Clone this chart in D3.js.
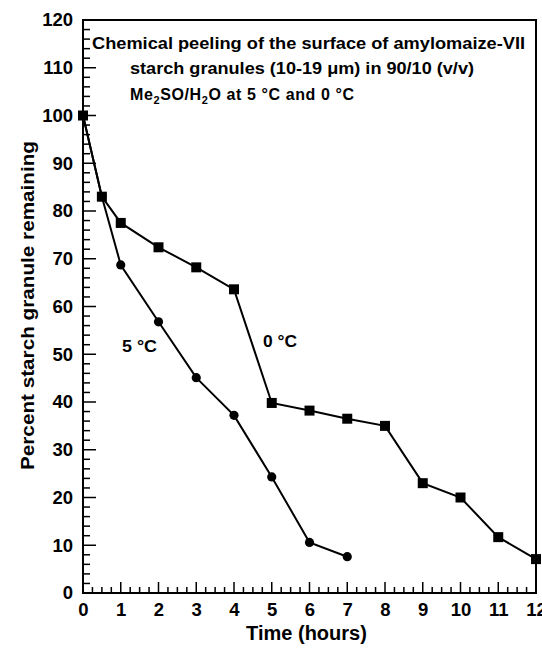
<!DOCTYPE html>
<html>
<head>
<meta charset="utf-8">
<script src="https://cdn.jsdelivr.net/npm/d3@7"></script>
<style>
body { margin: 0; background: #fff; }
text { font-family: "Liberation Sans", Arial, sans-serif; font-weight: bold; fill: #000; }
</style>
</head>
<body>
<div id="chart"></div>
<script>
var hours5 = [0, 0.5, 1, 2, 3, 4, 5, 6, 7];
var pct5 = [100, 83, 68.7, 56.8, 45.1, 37.2, 24.3, 10.6, 7.6];
var hours0 = [0, 0.5, 1, 2, 3, 4, 5, 6, 7, 8, 9, 10, 11, 12];
var pct0 = [100, 83, 77.5, 72.4, 68.2, 63.6, 39.8, 38.2, 36.5, 35, 23, 20, 11.7, 7.1];
var xTicks = [0, 1, 2, 3, 4, 5, 6, 7, 8, 9, 10, 11, 12];
var yTicks = [0, 10, 20, 30, 40, 50, 60, 70, 80, 90, 100, 110, 120];

var margin = { top: 20, right: 6, bottom: 56, left: 83 };
var width = 542 - margin.left - margin.right;
var height = 649 - margin.top - margin.bottom;

var svg = d3.select("#chart")
    .append("svg")
    .attr("width", 542)
    .attr("height", 649)
    .append("g")
    .attr("transform", "translate(" + margin.left + "," + margin.top + ")");

var x = d3.scaleLinear().domain([0, 12]).range([0, width]);
var y = d3.scaleLinear().domain([0, 120]).range([height, 0]);

// frame
svg.append("rect")
    .attr("width", width).attr("height", height)
    .attr("fill", "none").attr("stroke", "#000").attr("stroke-width", 2);

// ticks point inward, minor every 0.25 h and every 2 %
var xMinor = d3.range(0, 12.001, 0.25);
svg.append("g").selectAll("line").data(xMinor).enter().append("line")
    .attr("x1", function(d) { return x(d); }).attr("x2", function(d) { return x(d); })
    .attr("y1", height).attr("y2", function(d) { return d % 1 === 0 ? height - 11 : height - 6; })
    .attr("stroke", "#000").attr("stroke-width", 1.5);
var yMinor = d3.range(0, 120.001, 2);
svg.append("g").selectAll("line").data(yMinor).enter().append("line")
    .attr("x1", 0).attr("x2", function(d) { return d % 10 === 0 ? 13 : 7; })
    .attr("y1", function(d) { return y(d); }).attr("y2", function(d) { return y(d); })
    .attr("stroke", "#000").attr("stroke-width", 1.5);

var xAxis = svg.append("g")
    .attr("transform", "translate(0," + height + ")")
    .call(d3.axisBottom(x).tickValues(xTicks).tickSize(0).tickPadding(10));
var yAxis = svg.append("g")
    .call(d3.axisLeft(y).tickValues(yTicks).tickSize(0).tickPadding(10));
[xAxis, yAxis].forEach(function(a) {
    a.select(".domain").remove();
    a.selectAll("text").style("font-size", "18.5px").attr("font-family", null);
});

var line = d3.line()
    .x(function(d) { return x(d[0]); })
    .y(function(d) { return y(d[1]); });
var data5 = hours5.map(function(h, i) { return [h, pct5[i]]; });
var data0 = hours0.map(function(h, i) { return [h, pct0[i]]; });

svg.append("path").datum(data5).attr("d", line)
    .attr("fill", "none").attr("stroke", "#000").attr("stroke-width", 2);
svg.append("path").datum(data0).attr("d", line)
    .attr("fill", "none").attr("stroke", "#000").attr("stroke-width", 2);

svg.append("g").selectAll("circle").data(data5).enter().append("circle")
    .attr("cx", function(d) { return x(d[0]); })
    .attr("cy", function(d) { return y(d[1]); })
    .attr("r", 4.6).attr("fill", "#000");
svg.append("g").selectAll("rect").data(data0).enter().append("rect")
    .attr("x", function(d) { return x(d[0]) - 5; })
    .attr("y", function(d) { return y(d[1]) - 5; })
    .attr("width", 10).attr("height", 10).attr("fill", "#000");

// series labels
svg.append("text").attr("x", 39).attr("y", 332)
    .attr("textLength", 35).attr("lengthAdjust", "spacingAndGlyphs")
    .style("font-size", "16px").text("5 \u00b0C");
svg.append("text").attr("x", 180).attr("y", 327)
    .attr("textLength", 34).attr("lengthAdjust", "spacingAndGlyphs")
    .style("font-size", "16px").text("0 \u00b0C");

// title
svg.append("text").attr("x", 9).attr("y", 29)
    .attr("textLength", 433).attr("lengthAdjust", "spacingAndGlyphs")
    .style("font-size", "16px")
    .text("Chemical peeling of the surface of amylomaize-VII");
svg.append("text").attr("x", 47).attr("y", 54)
    .attr("textLength", 344).attr("lengthAdjust", "spacingAndGlyphs")
    .style("font-size", "16px")
    .text("starch granules (10-19 \u03bcm) in 90/10 (v/v)");
var t3 = svg.append("text").attr("x", 47).attr("y", 80)
    .style("font-size", "16px").style("letter-spacing", "0.6px");
t3.append("tspan").text("Me");
t3.append("tspan").attr("dy", 4).style("font-size", "11px").text("2");
t3.append("tspan").attr("dy", -4).text("SO/H");
t3.append("tspan").attr("dy", 4).style("font-size", "11px").text("2");
t3.append("tspan").attr("dy", -4).text("O at 5 \u00b0C and 0 \u00b0C");

// axis titles
svg.append("text")
    .attr("x", width / 2 - 3).attr("y", height + 47)
    .attr("text-anchor", "middle").style("font-size", "20px")
    .text("Time (hours)");
svg.append("text")
    .attr("transform", "translate(-49," + (height / 2 - 1) + ") rotate(-90)")
    .attr("text-anchor", "middle").style("font-size", "19px")
    .attr("textLength", 329).attr("lengthAdjust", "spacingAndGlyphs")
    .text("Percent starch granule remaining");
</script>
</body>
</html>
